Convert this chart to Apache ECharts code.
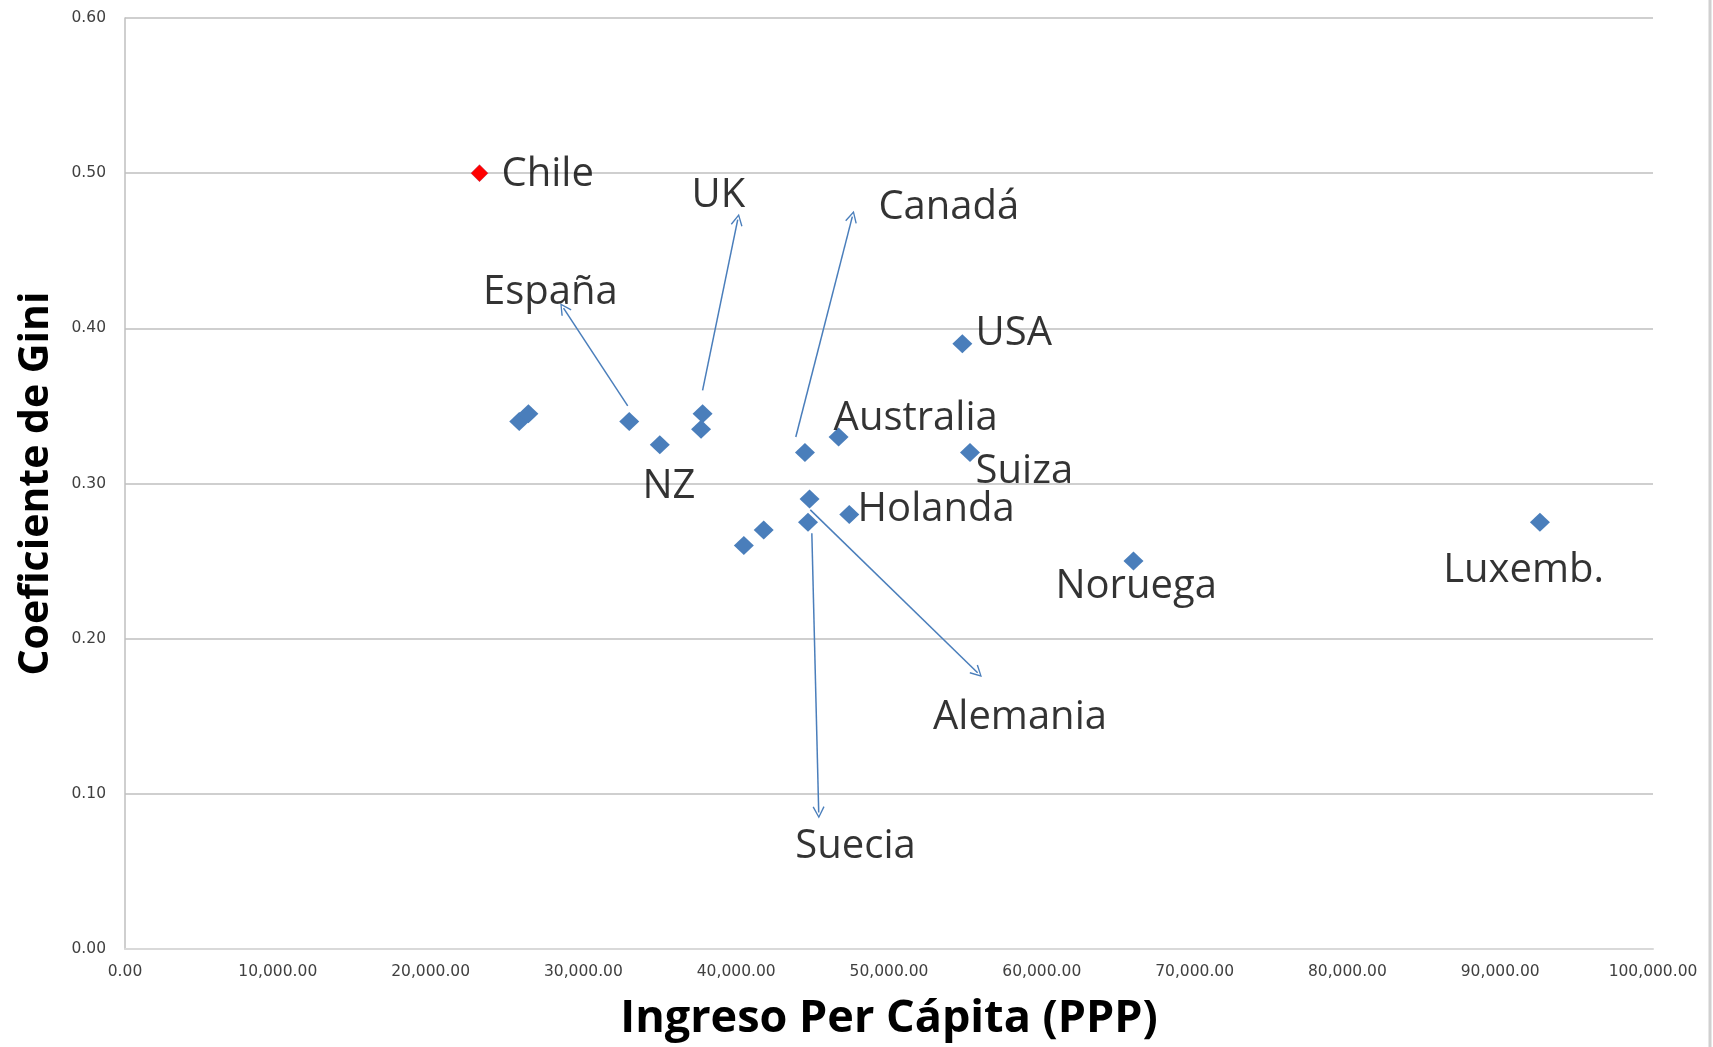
<!DOCTYPE html>
<html>
<head>
<meta charset="utf-8">
<script src="https://cdn.jsdelivr.net/npm/echarts@6/dist/echarts.min.js"></script>
<style>
html,body{margin:0;padding:0;background:#fff;}
#c{width:1713px;height:1047px;}
</style>
</head>
<body>
<div id="c"></div>
<script>
// ---- data ----
const xTicks = [0,10000,20000,30000,40000,50000,60000,70000,80000,90000,100000];
const yTicks = [0,0.1,0.2,0.3,0.4,0.5,0.6];
// OECD countries: [income per capita PPP, Gini]
const countryIncome = [25800,26400,33000,35000,37800,37700,44500,46700,44800,44700,47400,41800,40500,54800,55300,66000,92600];
const countryGini   = [0.34,0.345,0.34,0.325,0.345,0.335,0.32,0.33,0.29,0.275,0.28,0.27,0.26,0.39,0.32,0.25,0.275];
const chileIncome = [23200];
const chileGini = [0.50];
// text annotations: [name, x, y]
const labelNames = ['Chile','UK','Canadá','España','USA','Australia','NZ','Suiza','Holanda','Noruega','Luxemb.','Alemania','Suecia'];
const labelX = [24640,37075,49306,23423,55668,46374,33861,55668,47945,60890,86270,52880,43868];
const labelY = [0.4993,0.4853,0.4775,0.4228,0.3968,0.3421,0.2979,0.3077,0.2831,0.2333,0.2438,0.1490,0.0662];
// arrows: from [x,y] to [x,y]
const arrowFrom = [[32900,0.350],[37800,0.360],[43900,0.330],[44850,0.283],[44950,0.268]];
const arrowTo   = [[28700,0.413],[40100,0.470],[47600,0.472],[55800,0.178],[45400,0.088]];

const blue = '#4A7EBB';
const chevron = 'path://M0,9.2 L5,0 L10,9.2 L9.0,9.8 L5,2.2 L1.0,9.8 Z';

const chart = echarts.init(document.getElementById('c'), null, {renderer:'canvas'});
const option = {
  animation:false,
  backgroundColor:'#ffffff',
  grid:{left:125,right:60,top:18,bottom:95,containLabel:false},
  xAxis:{
    type:'value',min:0,max:100000,interval:10000,
    name:'Ingreso Per Cápita (PPP)',nameLocation:'middle',nameGap:48,
    nameTextStyle:{fontFamily:'Open Sans',fontWeight:'bold',fontSize:45,color:'#000'},
    axisLine:{show:true,lineStyle:{color:'#d9d9d9',width:2}},
    axisTick:{show:false},
    splitLine:{show:false},
    axisLabel:{fontFamily:'DejaVu Sans',fontSize:15.5,color:'#404040',margin:15,
      formatter:v=>v.toLocaleString('en-US',{minimumFractionDigits:2,maximumFractionDigits:2})}
  },
  yAxis:{
    type:'value',min:0,max:0.6,interval:0.1,
    name:'Coeficiente de Gini',nameLocation:'middle',nameGap:68,
    nameTextStyle:{fontFamily:'Open Sans',fontWeight:'bold',fontSize:41,color:'#000'},
    axisLine:{show:true,lineStyle:{color:'#bfbfbf',width:1.5}},
    axisTick:{show:false},
    splitLine:{show:true,lineStyle:{color:'#bfbfbf',width:1.5}},
    axisLabel:{fontFamily:'DejaVu Sans',fontSize:15.5,color:'#404040',margin:19,
      formatter:v=>v.toFixed(2)}
  },
  series:[
    {
      type:'scatter',name:'OECD',symbol:'diamond',symbolSize:[20,19],
      itemStyle:{color:blue,opacity:1},
      data:countryIncome.map((x,i)=>[x,countryGini[i]]),
      markLine:{
        silent:true,
        symbol:['none',chevron],
        symbolSize:12,
        label:{show:false},
        lineStyle:{color:blue,width:1.5,type:'solid',opacity:1},
        emphasis:{disabled:true},
        data:arrowFrom.map((f,i)=>[{coord:f},{coord:arrowTo[i]}])
      },
      z:3
    },
    {
      type:'scatter',name:'Chile',symbol:'diamond',symbolSize:[17,17],
      itemStyle:{color:'#ff0000',opacity:1,borderColor:'#b03050',borderWidth:0.5},
      data:chileIncome.map((x,i)=>[x,chileGini[i]]),
      z:4
    },
    {
      type:'scatter',name:'labels',symbolSize:0,silent:true,
      data:labelNames.map((n,i)=>({value:[labelX[i],labelY[i]],name:n})),
      label:{show:true,position:'right',distance:0,formatter:p=>p.name,
        fontFamily:'Open Sans',fontSize:40,color:'#000'},
      z:5
    }
  ],
  graphic:[
    {type:'line',shape:{x1:1710,y1:0,x2:1710,y2:1047},style:{stroke:'#d0d0d0',lineWidth:3},silent:true}
  ]
};
chart.setOption(option);
</script>
</body>
</html>
